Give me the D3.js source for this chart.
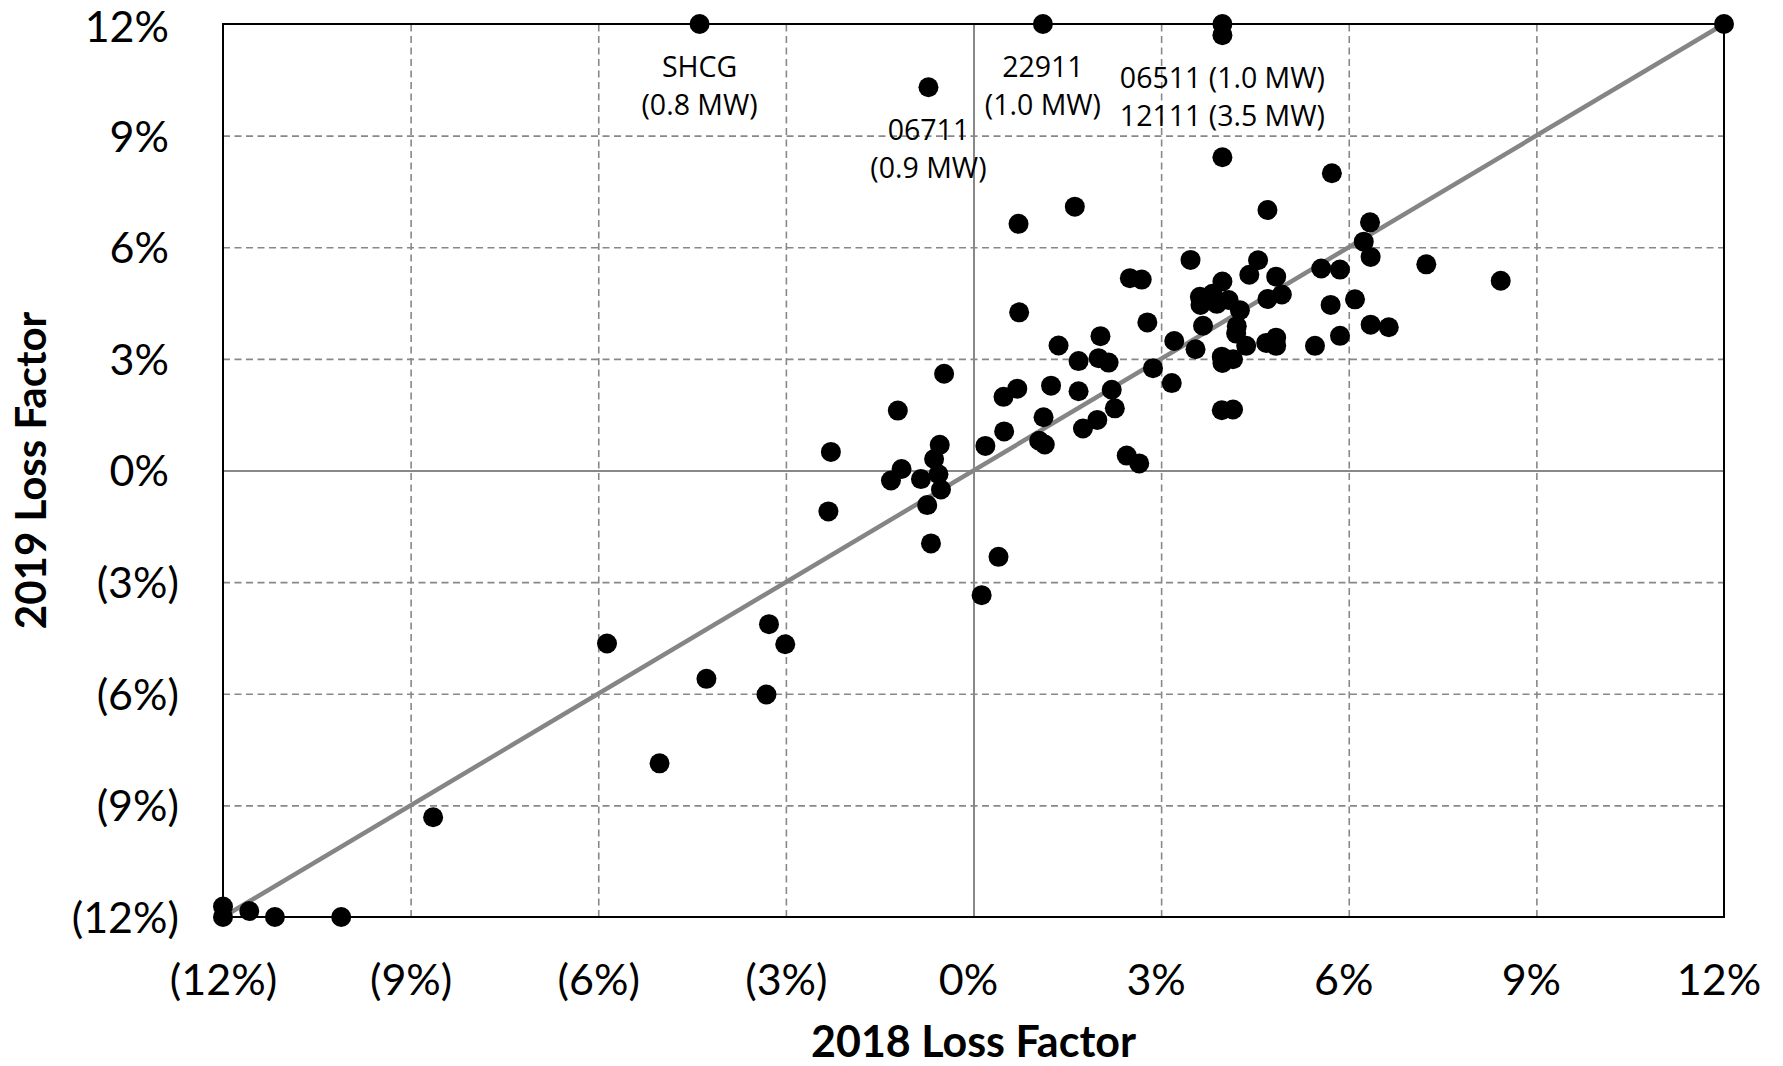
<!DOCTYPE html>
<html>
<head>
<meta charset="utf-8">
<script src="https://cdn.jsdelivr.net/npm/d3@7"></script>
<style>
  html, body { margin: 0; padding: 0; background: #fff; }
  svg { display: block; }
</style>
</head>
<body>
<svg id="chart" width="1783" height="1066"></svg>
<script>
// ---- Data (percent values) ----
const lossFactor2018 = [
  -4.38, 1.11, 3.98, 3.98, 12, -0.72, 3.98, 5.73, 1.62, 4.70,
  0.72, 6.34, 6.24, 6.35, 7.24, 8.43, 3.47, 4.55, 4.41, 4.84,
  5.56, 5.86, 2.50, 2.69, 3.98, 4.93, 4.70, 5.71, 6.10, 3.62,
  3.82, 3.63, 3.89, 4.08, 4.26, 0.73, 2.78, 3.67, 4.21, 4.20,
  6.35, 6.64, 5.86, 4.84, 4.84, 4.68, 4.36, 5.46, 2.03, 1.36,
  3.21, 3.55, 3.97, 4.15, 3.98, 1.68, 2.00, 2.16, 2.87, 3.17,
  -0.47, 1.24, 0.70, 0.48, 1.68, 2.21, 2.26, -1.21, 1.12, 3.97,
  4.15, 1.98, 1.75, 0.49, 1.05, 1.14, 0.19, -0.54, -2.28, 2.45,
  2.65, -0.63, -1.15, -0.56, -1.32, -0.84, -0.52, -0.74, -2.32, -0.68,
  0.40, 0.13, -3.27, -3.01, -5.86, -4.27, -3.31, -5.02, -8.64, -12,
  -12, -11.58, -11.17, -10.11
];
const lossFactor2019 = [
  12, 12, 12, 11.7, 12, 10.3, 8.42, 7.99, 7.09, 7.0,
  6.63, 6.67, 6.15, 5.74, 5.54, 5.10, 5.66, 5.65, 5.26, 5.21,
  5.43, 5.40, 5.17, 5.13, 5.08, 4.73, 4.61, 4.45, 4.60, 4.67,
  4.75, 4.45, 4.48, 4.58, 4.31, 4.25, 3.98, 3.89, 3.88, 3.68,
  3.92, 3.85, 3.62, 3.57, 3.35, 3.43, 3.35, 3.35, 3.61, 3.36,
  3.48, 3.26, 3.06, 2.99, 2.89, 2.94, 3.02, 2.90, 2.75, 2.35,
  2.60, 2.28, 2.20, 1.98, 2.13, 2.17, 1.67, 1.61, 1.43, 1.62,
  1.64, 1.36, 1.13, 1.05, 0.80, 0.70, 0.66, 0.69, 0.50, 0.40,
  0.19, 0.31, 0.04, -0.10, -0.27, -0.23, -0.51, -0.93, -1.10, -1.96,
  -2.32, -3.35, -4.13, -4.67, -4.65, -5.60, -6.02, -7.87, -9.32, -11.72,
  -12, -11.84, -12, -12
];
const tickValues = [-12, -9, -6, -3, 0, 3, 6, 9, 12];

// Annotated points
const annotationX = [-4.38, 1.11, -0.72, 3.98];
const annotationY = [12, 12, 10.3, 11.7];
const annotationLines = [
  ["SHCG", "(0.8 MW)"],
  ["22911", "(1.0 MW)"],
  ["06711", "(0.9 MW)"],
  ["06511 (1.0 MW)", "12111 (3.5 MW)"]
];

// ---- Layout ----
const plotLeft = 223, plotRight = 1724, plotTop = 24, plotBottom = 917;
const svg = d3.select("#chart");
svg.append("rect").attr("width", 1783).attr("height", 1066).attr("fill", "#fff");

const x = d3.scaleLinear().domain([-12, 12]).range([plotLeft, plotRight]);
const y = d3.scaleLinear().domain([-12, 12]).range([plotBottom, plotTop]);

const fmt = v => v < 0 ? "(" + Math.abs(v) + "%)" : v + "%";
const tickFont = "Lato, 'Open Sans', sans-serif";

// Gridlines via axes
const inner = tickValues.filter(v => v !== -12 && v !== 12);
const gx = svg.append("g").attr("transform", `translate(0,${plotBottom})`)
  .call(d3.axisBottom(x).tickValues(inner).tickSize(-(plotBottom - plotTop)).tickFormat(""));
gx.select(".domain").remove();
gx.selectAll(".tick line")
  .attr("stroke", "#888")
  .attr("stroke-width", d => d === 0 ? 2 : 1.6)
  .attr("stroke-dasharray", d => d === 0 ? null : "7,4.5");

const gy = svg.append("g").attr("transform", `translate(${plotLeft},0)`)
  .call(d3.axisLeft(y).tickValues(inner).tickSize(-(plotRight - plotLeft)).tickFormat(""));
gy.select(".domain").remove();
gy.selectAll(".tick line")
  .attr("stroke", "#888")
  .attr("stroke-width", d => d === 0 ? 2 : 1.6)
  .attr("stroke-dasharray", d => d === 0 ? null : "7,4.5");

// Plot border
svg.append("rect")
  .attr("x", plotLeft).attr("y", plotTop)
  .attr("width", plotRight - plotLeft).attr("height", plotBottom - plotTop)
  .attr("fill", "none").attr("stroke", "#000").attr("stroke-width", 2);

// Diagonal 1:1 line
svg.append("line")
  .attr("x1", x(-12)).attr("y1", y(-12))
  .attr("x2", x(12)).attr("y2", y(12))
  .attr("stroke", "#858585").attr("stroke-width", 4.5);

// Points
svg.append("g").selectAll("circle")
  .data(lossFactor2018.map((v, i) => [v, lossFactor2019[i]]))
  .join("circle")
  .attr("cx", d => x(d[0]))
  .attr("cy", d => y(d[1]))
  .attr("r", 10)
  .attr("fill", "#000");

// Tick labels
const xAxisG = svg.append("g").attr("transform", `translate(0,${plotBottom})`)
  .call(d3.axisBottom(x).tickValues(tickValues).tickSize(0).tickPadding(0).tickFormat(fmt));
xAxisG.select(".domain").remove();
xAxisG.selectAll(".tick text")
  .attr("font-family", tickFont).attr("font-size", 43).attr("fill", "#000")
  .attr("y", 78).attr("dy", 0)
  .attr("dx", d => d >= 0 ? -5.5 : 0);

const yAxisG = svg.append("g").attr("transform", `translate(${plotLeft},0)`)
  .call(d3.axisLeft(y).tickValues(tickValues).tickSize(0).tickPadding(0).tickFormat(fmt));
yAxisG.select(".domain").remove();
yAxisG.selectAll(".tick text")
  .attr("font-family", tickFont).attr("font-size", 43).attr("fill", "#000")
  .attr("text-anchor", "end")
  .attr("x", d => d >= 0 ? -(plotLeft - 169) : -(plotLeft - 179))
  .attr("dy", d => d === 12 ? "0.40em" : "0.36em");

// Axis titles
svg.append("text")
  .attr("x", (plotLeft + plotRight) / 2).attr("y", 1057)
  .attr("text-anchor", "middle")
  .attr("font-family", tickFont).attr("font-weight", "bold").attr("font-size", 43)
  .text("2018 Loss Factor");

svg.append("text")
  .attr("transform", `translate(46,${(plotTop + plotBottom) / 2}) rotate(-90)`)
  .attr("text-anchor", "middle")
  .attr("font-family", tickFont).attr("font-weight", "bold").attr("font-size", 42)
  .text("2019 Loss Factor");

// Annotations
const ann = svg.append("g")
  .attr("font-family", "'Open Sans', sans-serif").attr("font-size", 28.5).attr("fill", "#000")
  .attr("text-anchor", "middle");
annotationX.forEach((ax, i) => {
  const t = ann.append("text").attr("x", x(ax)).attr("y", y(annotationY[i]) + 53);
  annotationLines[i].forEach((line, j) => {
    t.append("tspan").attr("x", x(ax)).attr("dy", j === 0 ? 0 : 38).text(line);
  });
});
</script>
</body>
</html>
